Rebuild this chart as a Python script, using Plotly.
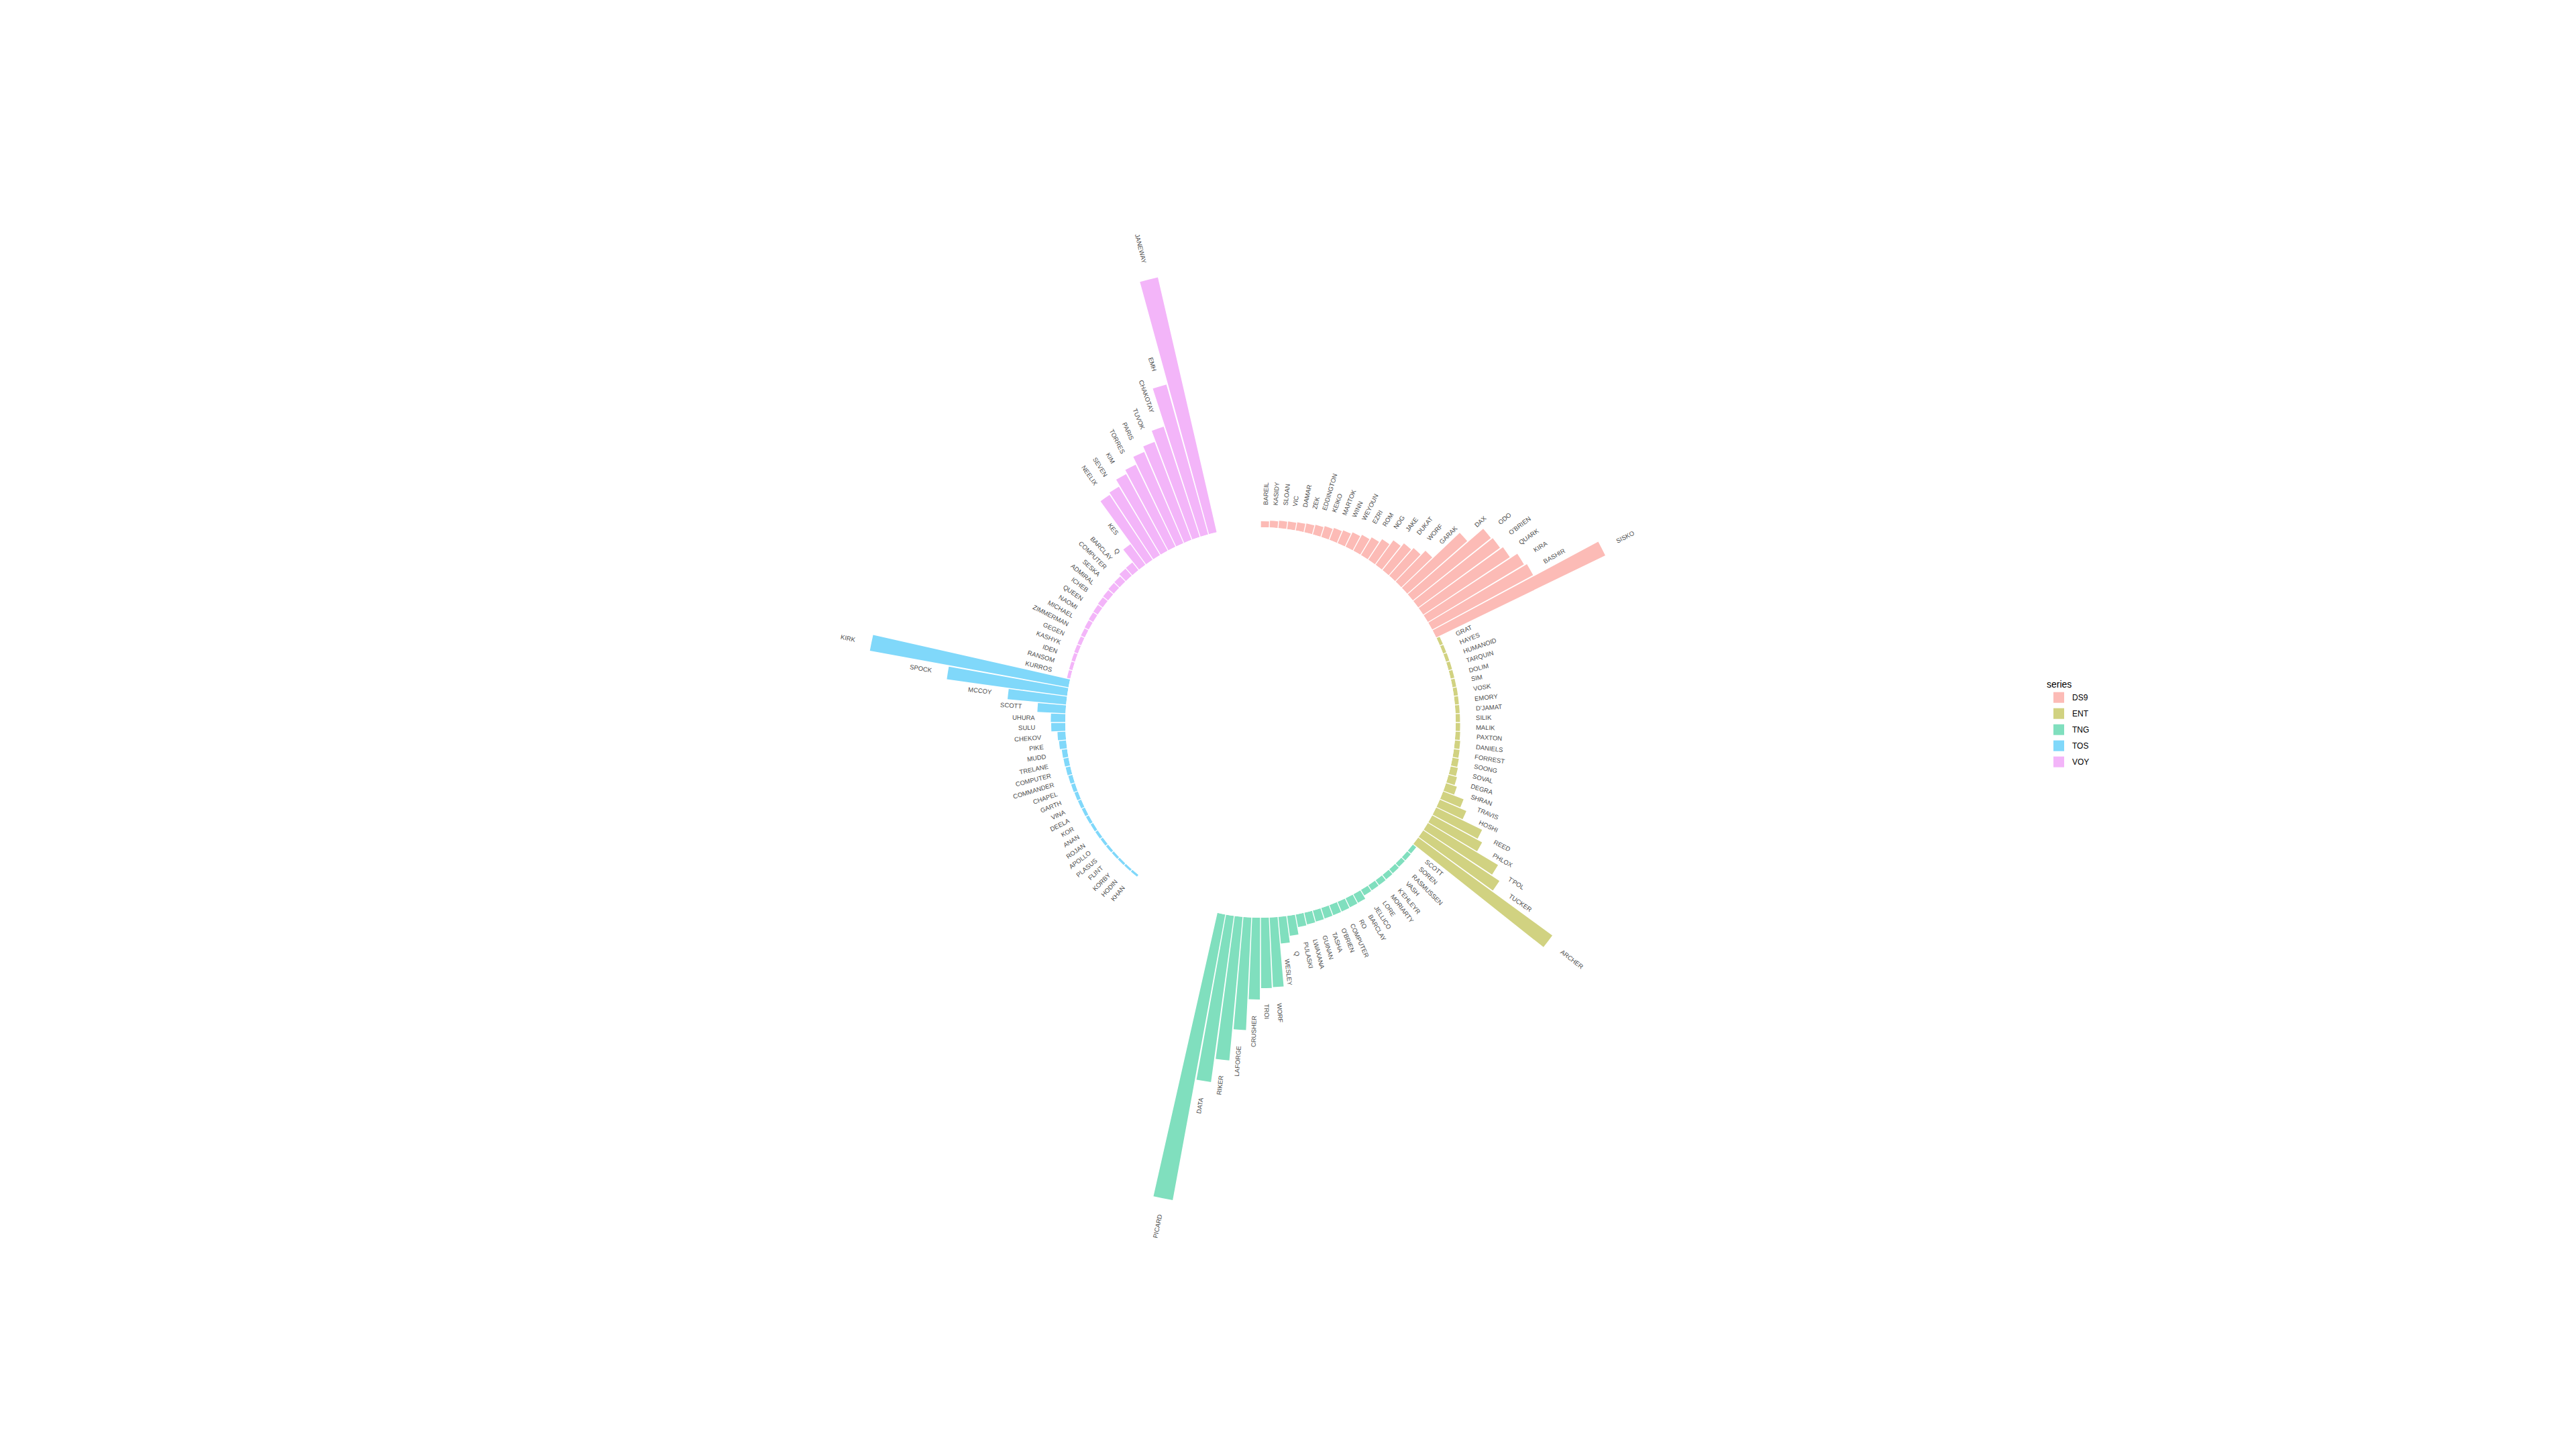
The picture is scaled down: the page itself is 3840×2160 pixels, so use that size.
import plotly.graph_objects as go
import math

# ---------------- data ----------------
series_names = ["DS9", "ENT", "TNG", "TOS", "VOY"]

ds9_characters = ["BAREIL", "KASIDY", "SLOAN", "VIC", "DAMAR", "ZEK", "EDDINGTON", "KEIKO",
                  "MARTOK", "WINN", "WEYOUN", "EZRI", "ROM", "NOG", "JAKE", "DUKAT", "WORF",
                  "GARAK", "DAX", "ODO", "O'BRIEN", "QUARK", "KIRA", "BASHIR", "SISKO"]
ds9_lines = [225, 250, 275, 290, 315, 340, 375, 425, 475, 525, 600, 675, 775, 925, 1125,
             1275, 1375, 1600, 2975, 3725, 3775, 3875, 4175, 4275, 7000]

ent_characters = ["GRAT", "HAYES", "HUMANOID", "TARQUIN", "DOLIM", "SIM", "VOSK", "EMORY",
                  "D'JAMAT", "SILIK", "MALIK", "PAXTON", "DANIELS", "FORREST", "SOONG", "SOVAL",
                  "DEGRA", "SHRAN", "TRAVIS", "HOSHI", "REED", "PHLOX", "T'POL", "TUCKER", "ARCHER"]
ent_lines = [125, 125, 130, 135, 138, 140, 150, 150, 155, 160, 165, 175, 200, 215, 240, 275,
             325, 425, 815, 1075, 1900, 2115, 3050, 3410, 6190]

tng_characters = ["SCOTT", "SOREN", "RASMUSSEN", "VASH", "K'EHLEYR", "MORIARTY", "LORE",
                  "JELLICO", "BARCLAY", "RO", "COMPUTER", "O'BRIEN", "TASHA", "GUINAN",
                  "LWAXANA", "PULASKI", "Q", "WESLEY", "WORF", "TROI", "CRUSHER", "LAFORGE",
                  "RIKER", "DATA", "PICARD"]
tng_lines = [160, 175, 180, 200, 215, 225, 230, 240, 365, 375, 390, 400, 410, 425, 450, 475,
             750, 1000, 2600, 2625, 3050, 4200, 5375, 6250, 10825]

tos_characters = ["KHAN", "HODIN", "KORBY", "FLINT", "PLASUS", "APOLLO", "ROJAN", "ANAN", "KOR",
                  "DEELA", "VINA", "GARTH", "CHAPEL", "COMMANDER", "COMPUTER", "TRELANE", "MUDD",
                  "PIKE", "CHEKOV", "SULU", "UHURA", "SCOTT", "MCCOY", "SPOCK", "KIRK"]
tos_lines = [85, 88, 90, 95, 100, 105, 110, 112, 118, 125, 130, 138, 150, 160, 175, 190, 200,
             265, 300, 525, 540, 1050, 2190, 4525, 7525]

voy_characters = ["KURROS", "RANSOM", "IDEN", "KASHYK", "GEGEN", "ZIMMERMAN", "MICHAEL", "NAOMI",
                  "QUEEN", "ICHEB", "ADMIRAL", "SESKA", "COMPUTER", "BARCLAY", "Q", "KES",
                  "NEELIX", "SEVEN", "KIM", "TORRES", "PARIS", "TUVOK", "CHAKOTAY", "EMH", "JANEWAY"]
voy_lines = [125, 128, 135, 145, 150, 160, 175, 190, 200, 225, 240, 265, 275, 350, 365, 950,
             2900, 2975, 3250, 3400, 3700, 3900, 4325, 5800, 9750]

series_characters = {"DS9": ds9_characters, "ENT": ent_characters, "TNG": tng_characters,
                     "TOS": tos_characters, "VOY": voy_characters}
series_lines = {"DS9": ds9_lines, "ENT": ent_lines, "TNG": tng_lines,
                "TOS": tos_lines, "VOY": voy_lines}

# ---------------- styling / layout ----------------
series_colors = {"DS9": "#FCBBB6", "ENT": "#D1D281", "TNG": "#80DFBE",
                 "TOS": "#80D8FA", "VOY": "#F3B5F9"}
slot_start = {"DS9": 0, "ENT": 25, "TNG": 50, "TOS": 85, "VOY": 110}
N_SLOTS = 140
SLOT = 360.0 / N_SLOTS

W, H = 3840, 2160
CX, CY = 1879.0, 1077.0      # centre of the polar plot (px)
R_IN = 291.0                 # hole radius (px)
R_MAX_VAL = 12000.0          # radial axis max
PX_PER_UNIT = 1.0 / 25.0
R_OUT = R_IN + R_MAX_VAL * PX_PER_UNIT
LABEL_GAP = 24.0
FONT_SIZE = 9.5

CHAR_W = {'A': .667, 'B': .667, 'C': .722, 'D': .722, 'E': .667, 'F': .611, 'G': .778,
          'H': .722, 'I': .278, 'J': .5, 'K': .667, 'L': .556, 'M': .833, 'N': .722,
          'O': .778, 'P': .667, 'Q': .778, 'R': .722, 'S': .667, 'T': .611, 'U': .722,
          'V': .667, 'W': .944, 'X': .667, 'Y': .667, 'Z': .611, "'": .191, ' ': .278}


def text_width(s):
    return sum(CHAR_W.get(c, .6) for c in s) * FONT_SIZE


fig = go.Figure()
annotations = []

for s in series_names:
    chars = series_characters[s]
    vals = series_lines[s]
    thetas = [(slot_start[s] + i + 0.5) * SLOT for i in range(len(chars))]
    fig.add_trace(go.Barpolar(
        r=vals, theta=thetas, width=[SLOT * 0.9] * len(vals),
        marker=dict(color=series_colors[s], line=dict(width=0)),
        name=s, text=chars, hovertemplate="%{text}: %{r}<extra>" + s + "</extra>",
        showlegend=False, legendgroup=s,
    ))
    # legend key (no data points, only the legend entry)
    fig.add_trace(go.Scatterpolar(
        r=[None], theta=[None], mode="markers", name=s, legendgroup=s,
        marker=dict(symbol="square", size=16, color=series_colors[s], line=dict(width=0)),
        hoverinfo="skip", showlegend=True,
    ))
    for name, v, th in zip(chars, vals, thetas):
        r_end = R_IN + v * PX_PER_UNIT
        d = r_end + LABEL_GAP + text_width(name) / 2.0
        rad = math.radians(th)
        x = CX + d * math.sin(rad)
        y = CY - d * math.cos(rad)
        ang = th - 90 if th < 180 else th - 270
        annotations.append(dict(
            x=x / W, y=1 - y / H, xref="paper", yref="paper",
            text=name, showarrow=False, textangle=ang,
            xanchor="center", yanchor="middle",
            font=dict(family="Liberation Sans, Arial, sans-serif", size=FONT_SIZE, color="#4d4d4d"),
        ))

fig.update_layout(
    width=W, height=H,
    margin=dict(l=0, r=0, t=0, b=0),
    paper_bgcolor="white", plot_bgcolor="white",
    font=dict(family="Liberation Sans, Arial, sans-serif"),
    polar=dict(
        domain=dict(x=[(CX - R_OUT) / W, (CX + R_OUT) / W],
                    y=[1 - (CY + R_OUT) / H, 1 - (CY - R_OUT) / H]),
        hole=R_IN / R_OUT,
        bgcolor="white",
        radialaxis=dict(range=[0, R_MAX_VAL], visible=False, showgrid=False, showline=False),
        angularaxis=dict(rotation=90, direction="clockwise", visible=False,
                         showgrid=False, showline=False, ticks=""),
        bargap=0,
    ),
    legend=dict(
        title=dict(text="series", font=dict(size=14, color="#000000")),
        font=dict(size=12, color="#000000"),
        x=3049 / W, y=1 - 1007 / H, xanchor="left", yanchor="top",
        bgcolor="rgba(0,0,0,0)", itemsizing="trace", tracegroupgap=5,
    ),
    annotations=annotations,
    showlegend=True,
)

fig.write_html("out.html")
